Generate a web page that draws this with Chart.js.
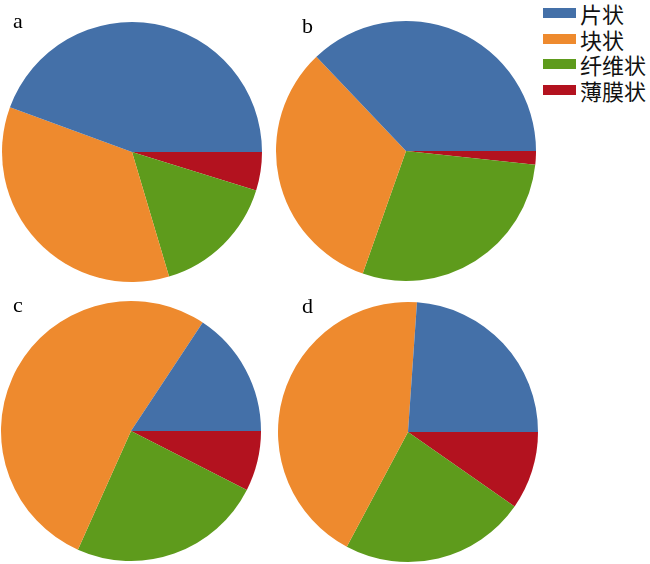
<!DOCTYPE html>
<html>
<head>
<meta charset="utf-8">
<script src="https://cdn.jsdelivr.net/npm/chart.js@4.4.0/dist/chart.umd.min.js"></script>
<style>
  body { margin: 0; background: #fff; width: 650px; height: 564px; position: relative; overflow: hidden; }
  canvas { position: absolute; }
  .tag { position: absolute; font-family: "Liberation Serif", serif; font-size: 22px; line-height: 22px; color: #000; }
  #legend { position: absolute; left: 543px; top: 0px; font-family: "Noto Sans CJK SC", sans-serif; font-size: 22px; color: #111; }
  .row { display: flex; align-items: center; height: 25.7px; }
  .box { width: 33px; height: 10px; margin-right: 4px; }
</style>
</head>
<body>
<canvas id="pieA" width="270" height="270" style="left:-3px; top:17px"></canvas>
<canvas id="pieB" width="270" height="270" style="left:271px; top:16px"></canvas>
<canvas id="pieC" width="270" height="270" style="left:-4px; top:296px"></canvas>
<canvas id="pieD" width="270" height="270" style="left:273px; top:297px"></canvas>
<div class="tag" style="left:13px; top:10px">a</div>
<div class="tag" style="left:302px; top:15px">b</div>
<div class="tag" style="left:13px; top:294px">c</div>
<div class="tag" style="left:302px; top:295px">d</div>
<div id="legend"></div>
<script>
const categories = ['片状', '块状', '纤维状', '薄膜状'];
const colors = ['#4470a8', '#ee8a2e', '#5e9b1c', '#b3121f'];

// shares (%)
const valuesA = [44.4, 35.2, 15.6, 4.8];
const valuesB = [37.1, 32.5, 28.7, 1.7];
const valuesC = [15.7, 52.6, 24.2, 7.5];
const valuesD = [23.9, 43.3, 23.1, 9.7];

// pies run counter-clockwise from 3 o'clock, Chart.js runs clockwise,
// so feed the slices in reverse order and start at 90deg
function drawPie(id, values) {
    const ctx = document.getElementById(id).getContext('2d');
    return new Chart(ctx, {
        type: 'pie',
        data: {
            labels: categories.slice().reverse(),
            datasets: [{
                data: values.slice().reverse(),
                backgroundColor: colors.slice().reverse(),
                borderWidth: 0
            }]
        },
        options: {
            responsive: false,
            animation: false,
            rotation: 90,
            layout: { padding: 5 },
            plugins: {
                legend: { display: false },
                tooltip: { enabled: false }
            }
        }
    });
}

function createLegend() {
    const legend = document.getElementById('legend');
    legend.innerHTML = '';
    categories.forEach((label, index) => {
        const item = document.createElement('div');
        item.className = 'row';
        item.innerHTML = `<span class="box" style="background:${colors[index]}"></span>${label}`;
        legend.appendChild(item);
    });
}

drawPie('pieA', valuesA);
drawPie('pieB', valuesB);
drawPie('pieC', valuesC);
drawPie('pieD', valuesD);
createLegend();
</script>
</body>
</html>
